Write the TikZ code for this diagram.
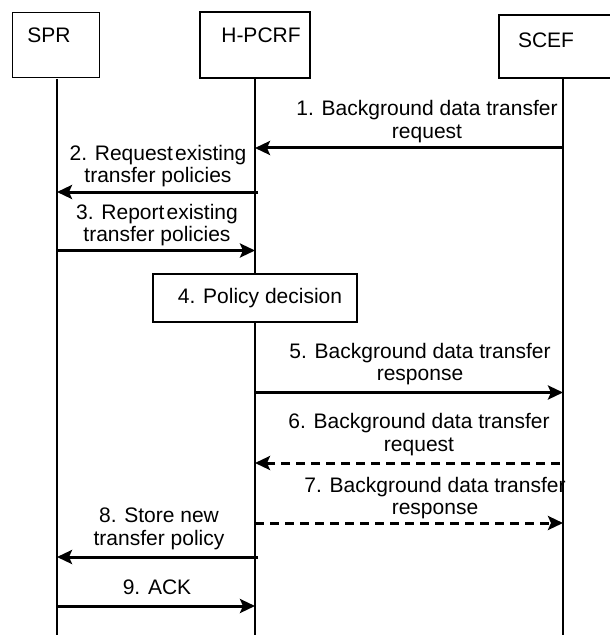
\documentclass[tikz,border=0pt]{standalone}
\usepackage{fontspec}
\setmainfont{Liberation Sans}
\usetikzlibrary{arrows.meta}
\tikzset{
  box/.style={draw, line width=1.3bp, fill=white, inner sep=0pt},
  txt/.style={inner sep=0pt, font=\fontsize{21bp}{22.5bp}\selectfont, align=center},
  life/.style={line width=1.3bp},
  msg/.style={line width=3bp, -{Stealth[length=15bp,width=14bp,inset=3bp]}},
  msgdash/.style={msg, dash pattern=on 9bp off 6bp},
}
\begin{document}
\begin{tikzpicture}[x=1bp,y=-1bp]
\useasboundingbox (0,0) rectangle (610,635);
\clip (0,0) rectangle (610,635);
% entity boxes
\node[box, minimum width=86.5bp, minimum height=64.5bp] (spr) at (56,45) {};
\node[txt] (sprtext) at (49,35) {SPR};
\node[box, minimum width=110bp, minimum height=66bp] (hp) at (255,45) {};
\node[txt] (hptext) at (261,35) {H-PCRF};
\node[box, minimum width=126bp, minimum height=63bp] (sc) at (562,46.5) {};
\node[txt] (sctext) at (546,40) {SCEF};
% lifelines
\coordinate (sprT) at (57,79);  \coordinate (sprB) at (57,635);
\coordinate (hpT) at (255,79);  \coordinate (hpB) at (255,635);
\coordinate (hpR) at (258,79);
\coordinate (scT) at (563,79);  \coordinate (scB) at (563,635);
\coordinate (scL) at (560,79);
\draw[life] (sprT) -- (sprB);
\draw[life] (hpT) -- (hpB);
\draw[life] (scT) -- (scB);
% message levels
\coordinate (m1) at (0,148);
\coordinate (m2) at (0,192);
\coordinate (m3) at (0,250.5);
\coordinate (m5) at (0,392.5);
\coordinate (m6) at (0,463);
\coordinate (m7) at (0,523);
\coordinate (m8) at (0,557);
\coordinate (m9) at (0,606);
% messages
\draw[msg] (scT |- m1) -- (hpT |- m1);
\node[txt] (l1) at (427,121.5) {1. Background data transfer\\request};
\draw[msg] (hpR |- m2) -- (sprT |- m2);
\node[txt] (l2) at (158,166) {2. Request\kern0.1em existing\\transfer policies};
\draw[msg] (sprT |- m3) -- (hpT |- m3);
\node[txt] (l3) at (157,225) {3. Report\kern0.1em existing\\transfer policies};
\node[box, txt, minimum width=204bp, minimum height=48bp] (pd) at (255,298) {\hspace*{10bp}4. Policy decision};
\draw[msg] (hpT |- m5) -- (scT |- m5);
\node[txt] (l5) at (420,364) {5. Background data transfer\\response};
\draw[msgdash] (scL |- m6) -- (hpT |- m6);
\node[txt] (l6) at (419,434.5) {6. Background data transfer\\request};
\draw[msgdash] (hpT |- m7) -- (scT |- m7);
\node[txt] (l7) at (435,498) {7. Background data transfer\\response};
\draw[msg] (hpR |- m8) -- (sprT |- m8);
\node[txt] (l8) at (159,529) {8. Store new\\transfer policy};
\draw[msg] (sprT |- m9) -- (hpT |- m9);
\node[txt] (l9) at (157,587) {9. ACK};
\end{tikzpicture}
\end{document}
